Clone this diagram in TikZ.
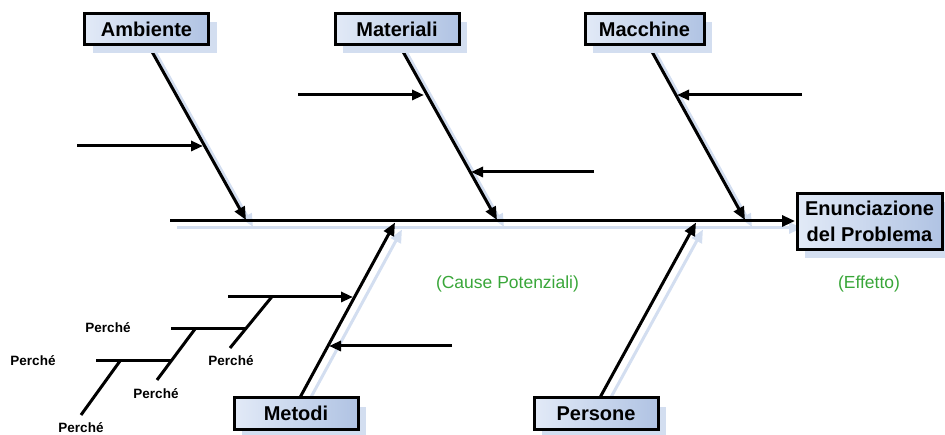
\documentclass[tikz,border=0pt]{standalone}
\usepackage{fontspec}
\setmainfont{Liberation Sans}
\usetikzlibrary{arrows.meta,shadows}
\definecolor{boxlight}{HTML}{E2EAF7}
\definecolor{boxdark}{HTML}{B0C3E3}
\definecolor{shadowblue}{HTML}{D3DEF0}
\definecolor{causegreen}{RGB}{57,166,57}
\tikzset{
  causebox/.style={draw=black, line width=3pt, left color=boxlight, right color=boxdark,
    minimum width=124pt, minimum height=31pt, inner sep=0pt,
    font=\fontsize{20}{26.5}\selectfont\bfseries,
    drop shadow={shadow xshift=8pt, shadow yshift=-9pt, fill=shadowblue, opacity=1}},
  bone/.style={line width=3pt, -{Triangle[length=13pt,width=11pt]}},
  boneshade/.style={line width=3pt, draw=shadowblue, -{Triangle[length=13pt,width=11pt]},
    transform canvas={shift={(7pt,-7pt)}}},
  subarrow/.style={line width=3pt, -{Triangle[length=12pt,width=10pt]}},
  why/.style={line width=3pt},
  whylabel/.style={font=\fontsize{13.5}{16}\selectfont\bfseries, inner sep=0pt},
  note/.style={text=causegreen, font=\fontsize{17.5}{20}\selectfont, inner sep=0pt},
}
\begin{document}
\begin{tikzpicture}[x=1pt, y=-1pt]
\useasboundingbox (0,0) rectangle (945,435);

% ---- points of the skeleton ----
\coordinate (spinetail) at (170,221);
\coordinate (spinehead) at (795,221);
\coordinate (ambs) at (148,44.5);   \coordinate (ambtip) at (246,220);
\coordinate (mats) at (399,44.5);   \coordinate (mattip) at (497,220);
\coordinate (macs) at (648,44.5);   \coordinate (mactip) at (745,220);
\coordinate (mets) at (300,397.5);  \coordinate (mettip) at (395,222.5);
\coordinate (pers) at (600,397.5);  \coordinate (pertip) at (696,222.5);

% sub-causes
\coordinate (a1t) at (77,146);   \coordinate (a1h) at (203,146);
\coordinate (m1t) at (298,95);   \coordinate (m1h) at (424,95);
\coordinate (m2t) at (594,172);  \coordinate (m2h) at (471,172);
\coordinate (c1t) at (802,95);   \coordinate (c1h) at (677,95);
\coordinate (t1t) at (228,297);  \coordinate (t1h) at (353,297);
\coordinate (t2t) at (452,346);  \coordinate (t2h) at (329,346);

% chain of "why" branches
\coordinate (w1a) at (271.7,297); \coordinate (w1b) at (230,348);
\coordinate (w2a) at (171,329);   \coordinate (w2b) at (245,329);
\coordinate (w3a) at (195,329);   \coordinate (w3b) at (157,380);
\coordinate (w4a) at (96,361);    \coordinate (w4b) at (171,361);
\coordinate (w5a) at (120,361);   \coordinate (w5b) at (81,415);

% ---- soft shadows of the main bones ----
\draw[boneshade] (spinetail) -- (spinehead);
\draw[boneshade] (ambs) -- (ambtip);
\draw[boneshade] (mats) -- (mattip);
\draw[boneshade] (macs) -- (mactip);
\draw[boneshade] (mets) -- (mettip);
\draw[boneshade] (pers) -- (pertip);

% ---- main bones ----
\draw[bone] (spinetail) -- (spinehead);
\draw[bone] (ambs) -- (ambtip);
\draw[bone] (mats) -- (mattip);
\draw[bone] (macs) -- (mactip);
\draw[bone] (mets) -- (mettip);
\draw[bone] (pers) -- (pertip);

% ---- sub-cause arrows ----
\draw[subarrow] (a1t) -- (a1h);
\draw[subarrow] (m1t) -- (m1h);
\draw[subarrow] (m2t) -- (m2h);
\draw[subarrow] (c1t) -- (c1h);
\draw[subarrow] (t1t) -- (t1h);
\draw[subarrow] (t2t) -- (t2h);

% ---- why chain ----
\draw[why] (w1a) -- (w1b);
\draw[why] (w2a) -- (w2b);
\draw[why] (w3a) -- (w3b);
\draw[why] (w4a) -- (w4b);
\draw[why] (w5a) -- (w5b);

\node[whylabel] (p1) at (108,328) {Perché};
\node[whylabel] (p2) at (33,361) {Perché};
\node[whylabel] (p3) at (231,361) {Perché};
\node[whylabel] (p4) at (156,394) {Perché};
\node[whylabel] (p5) at (81,428) {Perché};

% ---- category boxes and effect box, on top of the bones ----
\node[causebox] (amb) at (146.5,29) {Ambiente};
\node[causebox] (mat) at (397,29) {Materiali};
\node[causebox, minimum width=119pt] (mac) at (644.5,29) {Macchine};
\node[causebox, minimum height=32pt] (met) at (296,413.5) {Metodi};
\node[causebox, minimum height=32pt] (per) at (596,413.5) {Persone};
\node[causebox, minimum width=145pt, minimum height=56pt, align=center] (eff) at (869.5,221.5)
  {Enunciazione\\del Problema};

% ---- notes ----
\node[note] (cause) at (507.5,284) {(Cause Potenziali)};
\node[note] (effect) at (869,284) {(Effetto)};
\end{tikzpicture}
\end{document}
